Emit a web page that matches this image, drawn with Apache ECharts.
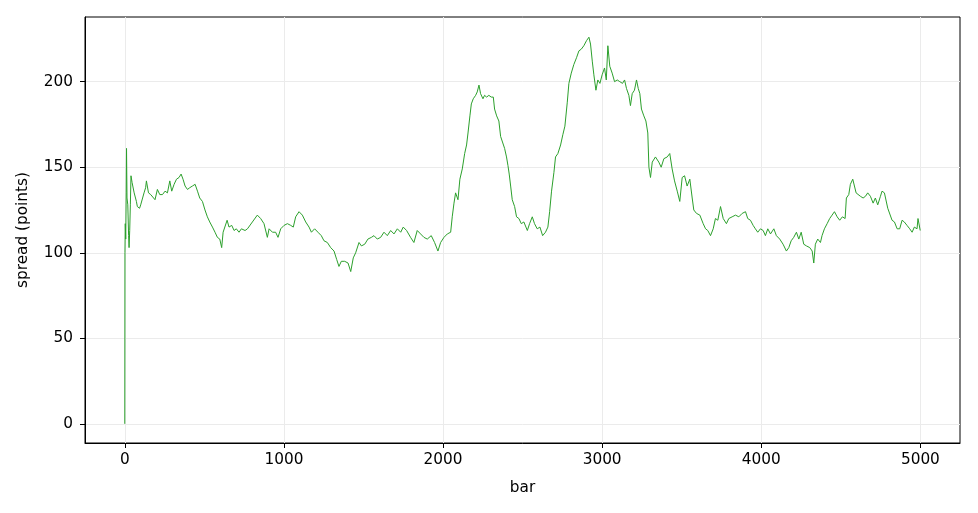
<!DOCTYPE html>
<html>
<head>
<meta charset="utf-8">
<script src="https://cdn.jsdelivr.net/npm/echarts@6/dist/echarts.min.js"></script>
<style>
html,body{margin:0;padding:0;background:#fff;}
#c{width:978px;height:513px;}
</style>
</head>
<body>
<div id="c"></div>
<script>
const bars = [0,1,3,6,9,11,14,19,24,27,31,35,39,46,52,59,66,73,79,86,93,100,111,121,131,136,149,163,174,190,205,220,237,253,268,283,295,310,325,341,354,366,379,394,408,425,442,457,471,488,504,519,534,551,567,582,597,609,618,630,643,655,672,687,701,718,733,756,771,802,833,854,875,896,907,928,948,963,980,1001,1022,1043,1059,1074,1095,1116,1137,1158,1173,1193,1214,1235,1252,1273,1294,1315,1332,1346,1361,1382,1403,1420,1436,1451,1472,1487,1508,1528,1550,1566,1587,1608,1629,1650,1671,1692,1713,1734,1750,1771,1796,1817,1838,1859,1880,1901,1926,1947,1968,1985,2006,2027,2048,2058,2069,2079,2094,2106,2121,2136,2148,2157,2169,2178,2190,2205,2215,2226,2236,2251,2261,2274,2288,2303,2316,2324,2337,2351,2362,2373,2387,2399,2408,2416,2425,2435,2450,2462,2477,2492,2508,2530,2544,2561,2575,2592,2609,2626,2644,2659,2670,2682,2697,2707,2722,2739,2753,2766,2781,2791,2806,2822,2839,2854,2869,2885,2902,2917,2927,2938,2948,2961,2973,2986,3000,3015,3026,3036,3048,3063,3078,3095,3111,3128,3141,3153,3168,3178,3189,3203,3216,3227,3237,3247,3262,3275,3287,3294,3304,3315,3335,3356,3371,3388,3409,3425,3440,3455,3472,3488,3503,3518,3534,3551,3566,3576,3593,3614,3635,3650,3664,3681,3698,3712,3727,3744,3761,3781,3796,3817,3838,3859,3880,3901,3915,3932,3949,3963,3978,3995,4012,4026,4041,4058,4079,4095,4116,4137,4158,4173,4188,4204,4221,4236,4251,4267,4284,4305,4320,4330,4340,4355,4372,4382,4397,4414,4430,4445,4460,4477,4493,4510,4527,4535,4550,4560,4575,4585,4596,4606,4623,4640,4655,4669,4686,4703,4717,4732,4749,4759,4774,4786,4795,4807,4822,4837,4854,4870,4885,4899,4916,4933,4948,4962,4979,4985,4999];
const spread = [0,100,117,108,135,161,132,128,110,103,113,128,145,141,140,135,134,130,127,128,126,128,127,135,138,142,135,134,133,131,137,134,134,136,135,142,136,140,143,144,146,143,139,137,138,139,140,136,132,130,125,121,118,115,112,109,108,103,112,113,119,115,116,113,114,112,114,113,114,118,122,120,117,109,114,112,112,109,114,116,117,116,115,121,124,122,118,115,112,114,112,110,107,106,103,101,96,92,95,95,94,89,97,100,106,104,105,108,109,110,108,109,112,110,113,111,114,112,115,113,109,106,113,111,109,108,110,106,101,106,109,111,112,121,129,135,131,143,149,158,163,170,180,187,190,192,194,198,193,190,192,191,192,191,191,184,180,177,168,167,161,156,151,146,139,131,127,121,120,117,118,113,117,121,117,114,115,110,112,115,124,136,147,156,158,163,169,174,188,199,205,210,214,218,219,221,224,226,222,212,204,195,201,199,204,208,201,221,209,205,200,201,200,199,201,196,192,186,193,195,201,196,193,184,180,177,170,150,144,153,156,153,150,155,156,158,149,142,136,130,144,145,139,143,132,125,123,122,117,114,113,110,114,120,119,127,120,117,120,121,122,121,123,124,120,119,116,114,112,114,113,110,114,111,114,110,108,105,101,103,107,109,112,108,112,105,104,103,101,94,105,108,106,110,114,117,120,122,124,121,119,121,120,132,134,140,143,144,135,136,133,132,133,135,133,129,132,128,133,136,135,136,126,125,119,118,114,114,119,118,116,114,112,115,114,120,113];
const xTicks = [0,1000,2000,3000,4000,5000];
const yTicks = [0,50,100,150,200];

const chart = echarts.init(document.getElementById('c'), null, {renderer:'canvas'});
const font = 'DejaVu Sans';
const fs = 15.3;
chart.setOption({
  animation:false,
  backgroundColor:'#ffffff',
  grid:{left:85,right:18,top:17,bottom:70,show:true,borderColor:'#000',borderWidth:1,backgroundColor:'transparent'},
  xAxis:{
    type:'value',min:-250,max:5249,
    name:'bar',nameLocation:'middle',nameGap:38,
    nameTextStyle:{fontFamily:font,fontSize:fs,color:'#000'},
    axisLine:{show:true,onZero:false,lineStyle:{color:'#000',width:1}},
    axisTick:{show:true,inside:false,length:5,customValues:xTicks,lineStyle:{color:'#000'}},
    axisLabel:{customValues:xTicks,fontFamily:font,fontSize:fs,color:'#000',margin:10,formatter:v=>String(v)},
    splitLine:{show:true,lineStyle:{color:'#ebebeb',width:1}}
  },
  yAxis:{
    type:'value',min:-11.2,max:237.8,
    name:'spread (points)',nameLocation:'middle',nameGap:54,nameRotate:90,
    nameTextStyle:{fontFamily:font,fontSize:fs,color:'#000'},
    axisLine:{show:true,onZero:false,lineStyle:{color:'#000',width:1}},
    axisTick:{show:true,inside:false,length:5,customValues:yTicks,lineStyle:{color:'#000'}},
    axisLabel:{customValues:yTicks,fontFamily:font,fontSize:fs,color:'#000',margin:12,formatter:v=>String(v)},
    splitLine:{show:true,lineStyle:{color:'#ebebeb',width:1}}
  },
  series:[{
    type:'line',
    data:bars.map((b,i)=>[b,spread[i]]),
    showSymbol:false,symbol:'none',
    lineStyle:{color:'#2ca02c',width:1},
    itemStyle:{color:'#2ca02c'}
  }]
});
</script>
</body>
</html>
